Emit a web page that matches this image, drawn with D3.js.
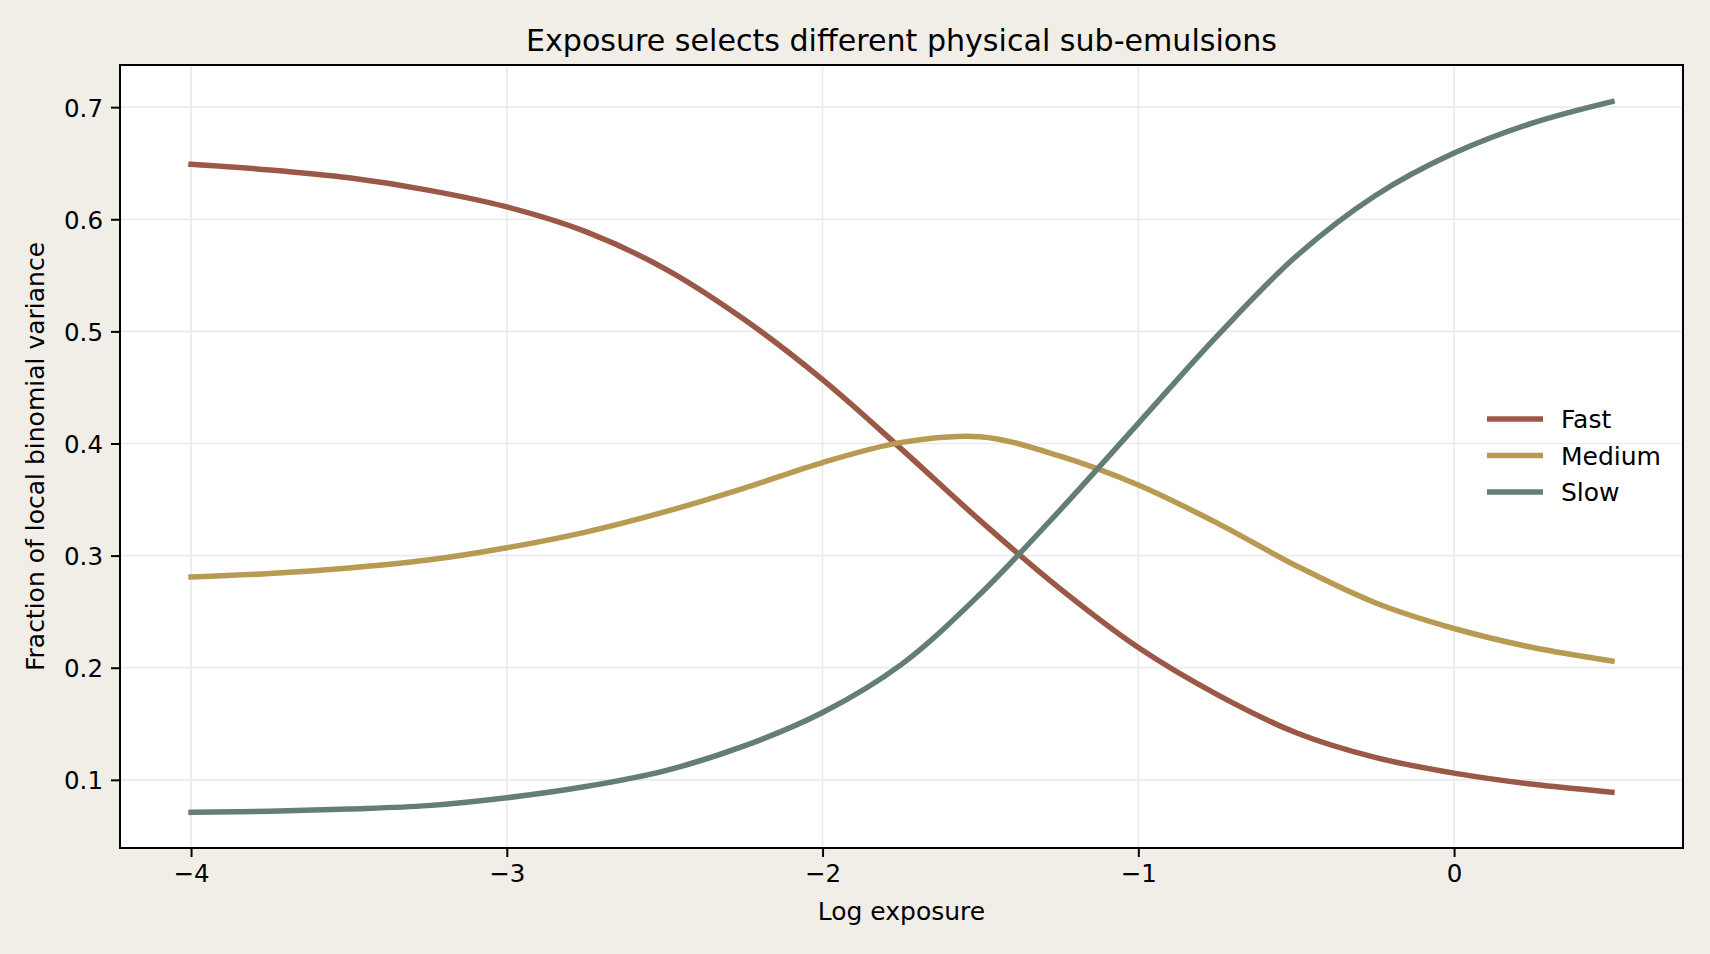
<!DOCTYPE html>
<html>
<head>
    <meta charset="utf-8" />
    <title>Exposure selects different physical sub-emulsions</title>
    <style>
        body {
            margin: 0;
            background-color: #f1eee8;
        }

        text {
            font-family: "DejaVu Sans", sans-serif;
            fill: #000;
        }

        .grid line {
            stroke: #ebebeb;
            stroke-width: 1.7;
        }
    </style>
    <script src="https://cdnjs.cloudflare.com/ajax/libs/d3/7.8.5/d3.min.js"></script>
</head>
<body>
    <script>
        // log exposure, sampled every 0.25
        var logExposure = [-4, -3.75, -3.5, -3.25, -3, -2.75, -2.5, -2.25, -2, -1.75,
                           -1.5, -1.25, -1, -0.75, -0.5, -0.25, 0, 0.25, 0.5];

        var fast   = [0.649, 0.644, 0.637, 0.626, 0.611, 0.589, 0.556, 0.511, 0.457, 0.395,
                      0.331, 0.271, 0.218, 0.176, 0.142, 0.120, 0.106, 0.096, 0.089];
        var medium = [0.281, 0.284, 0.289, 0.296, 0.307, 0.321, 0.339, 0.360, 0.383, 0.401,
                      0.406, 0.389, 0.363, 0.329, 0.291, 0.258, 0.235, 0.218, 0.206];
        var slow   = [0.071, 0.072, 0.074, 0.077, 0.084, 0.094, 0.108, 0.130, 0.160, 0.203,
                      0.266, 0.340, 0.418, 0.496, 0.567, 0.621, 0.659, 0.686, 0.705];

        var seriesNames = ["Fast", "Medium", "Slow"];
        var seriesColors = ["#9c5846", "#b99a52", "#647e76"];

        var xTicks = [-4, -3, -2, -1, 0];
        var yTicks = [0.1, 0.2, 0.3, 0.4, 0.5, 0.6, 0.7];

        var width = 1710,
            height = 954;

        var plot = {left: 120, right: 1683, top: 65, bottom: 848};

        var svg = d3.select("body").append("svg")
                    .attr("width", width)
                    .attr("height", height);

        svg.append("rect")
            .attr("width", width)
            .attr("height", height)
            .attr("fill", "#f1eee8");

        // matplotlib-style 5% margins around the data
        var x = d3.scaleLinear()
                  .domain([-4.225, 0.725])
                  .range([plot.left, plot.right]);

        var y = d3.scaleLinear()
                  .domain([0.0392, 0.7376])
                  .range([plot.bottom, plot.top]);

        svg.append("rect")
            .attr("x", plot.left)
            .attr("y", plot.top)
            .attr("width", plot.right - plot.left)
            .attr("height", plot.bottom - plot.top)
            .attr("fill", "white");

        // grid
        var grid = svg.append("g").attr("class", "grid");
        grid.selectAll(".gx").data(xTicks).enter().append("line")
            .attr("x1", d => x(d)).attr("x2", d => x(d))
            .attr("y1", plot.top).attr("y2", plot.bottom);
        grid.selectAll(".gy").data(yTicks).enter().append("line")
            .attr("x1", plot.left).attr("x2", plot.right)
            .attr("y1", d => y(d)).attr("y2", d => y(d));

        // curves
        var series = [fast, medium, slow];
        var line = d3.line()
                     .x((d, i) => x(logExposure[i]))
                     .y(d => y(d))
                     .curve(d3.curveCatmullRom.alpha(0.5));

        svg.selectAll(".curve").data(series).enter().append("path")
            .attr("class", "curve")
            .attr("d", d => line(d))
            .attr("fill", "none")
            .attr("stroke", (d, i) => seriesColors[i])
            .attr("stroke-width", 5.5)
            .attr("stroke-linecap", "square")
            .attr("stroke-linejoin", "round");

        // axes
        var xAxis = d3.axisBottom(x)
                      .tickValues(xTicks)
                      .tickSize(9)
                      .tickPadding(8)
                      .tickFormat(d3.format("d"));

        var yAxis = d3.axisLeft(y)
                      .tickValues(yTicks)
                      .tickSize(9)
                      .tickPadding(8)
                      .tickFormat(d3.format(".1f"));

        var gx = svg.append("g")
            .attr("transform", "translate(0," + plot.bottom + ")")
            .call(xAxis);
        var gy = svg.append("g")
            .attr("transform", "translate(" + plot.left + ",0)")
            .call(yAxis);

        [gx, gy].forEach(function(g) {
            g.select(".domain").remove();
            g.selectAll(".tick line").attr("stroke", "#000").attr("stroke-width", 2);
            g.selectAll(".tick text")
                .attr("font-family", "DejaVu Sans")
                .attr("font-size", 24.5)
                .attr("fill", "#000");
        });
        gy.selectAll(".tick text").attr("dy", "0.37em");

        // frame
        svg.append("rect")
            .attr("x", plot.left)
            .attr("y", plot.top)
            .attr("width", plot.right - plot.left)
            .attr("height", plot.bottom - plot.top)
            .attr("fill", "none")
            .attr("stroke", "#000")
            .attr("stroke-width", 2);

        // titles
        svg.append("text")
            .attr("x", (plot.left + plot.right) / 2)
            .attr("y", 50.5)
            .attr("text-anchor", "middle")
            .attr("font-size", 30.1)
            .text("Exposure selects different physical sub-emulsions");

        svg.append("text")
            .attr("x", (plot.left + plot.right) / 2)
            .attr("y", 920)
            .attr("text-anchor", "middle")
            .attr("font-size", 25)
            .text("Log exposure");

        svg.append("text")
            .attr("transform", "translate(43.5," + (plot.top + plot.bottom) / 2 + ") rotate(-90)")
            .attr("text-anchor", "middle")
            .attr("font-size", 25)
            .text("Fraction of local binomial variance");

        // legend
        var legend = svg.append("g")
            .attr("transform", "translate(1487,419)");

        var item = legend.selectAll(".item").data(seriesNames).enter().append("g")
            .attr("class", "item")
            .attr("transform", (d, i) => "translate(0," + i * 36.5 + ")");

        item.append("line")
            .attr("x1", 2.75).attr("x2", 53.25)
            .attr("stroke", (d, i) => seriesColors[i])
            .attr("stroke-width", 5.5)
            .attr("stroke-linecap", "square");

        item.append("text")
            .attr("x", 74)
            .attr("y", 9)
            .attr("font-size", 25)
            .text(d => d);
    </script>
</body>
</html>
